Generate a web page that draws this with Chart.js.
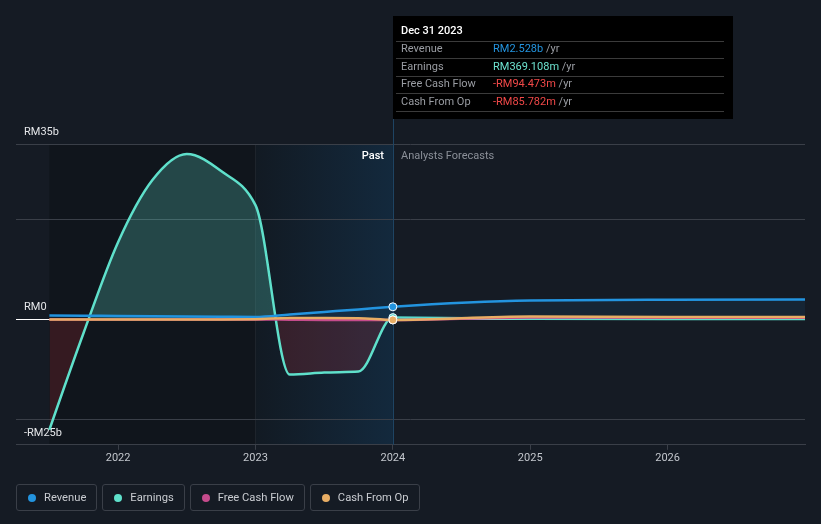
<!DOCTYPE html>
<html>
<head>
<meta charset="utf-8">
<script src="https://cdn.jsdelivr.net/npm/chart.js@4.4.1/dist/chart.umd.min.js"></script>
<style>
  html, body { margin: 0; padding: 0; background: #151b24; }
  body { width: 821px; height: 524px; position: relative; overflow: hidden; font-family: Roboto, sans-serif; }
  #chart { position: absolute; left: 0; top: 0; }
  #legend { position: absolute; left: 16px; top: 484px; display: flex; gap: 5px; }
  .item { display: flex; align-items: center; height: 25px; padding: 0 10px 0 11px; border: 1px solid #3a3f48; border-radius: 3px; color: #c9ccd1; font-size: 11.2px; }
  .dot { width: 8px; height: 8px; border-radius: 50%; margin-right: 8px; }
</style>
</head>
<body>
<canvas id="chart" width="821" height="524"></canvas>
<div id="legend"></div>
<script>
// quarterly history up to Dec 2023, then annual forecasts
const dates = [2021.5, 2021.75, 2022, 2022.25, 2022.5, 2022.75, 2023, 2023.25, 2023.5, 2023.75, 2024, 2025, 2026, 2027];
const revenue = [0.8, 0.75, 0.7, 0.65, 0.6, 0.55, 0.5, 1.0, 1.5, 2.0, 2.528, 3.8, 3.95, 4.0];
const earnings = [-22.0, -2.6, 15.4, 27.8, 33.0, 29.6, 22.8, -11.0, -10.6, -10.4, 0.369, 0.15, 0.1, 0.1];
const freeCashFlow = [0, 0, 0, 0, 0, 0, 0, -0.05, -0.1, -0.1, -0.094, 0.4, 0.35, 0.35];
const cashFromOp = [0, 0, 0, 0, 0, 0, 0.05, 0.3, 0.3, 0.25, -0.086, 0.6, 0.5, 0.5];

const xTicks = [2022, 2023, 2024, 2025, 2026];
const yTicks = [-25, -20, 0, 20, 35];
const yLabels = { '35': 'RM35b', '0': 'RM0', '-25': '-RM25b' };

const highlightDate = 2024;
const pastBandStart = 2023;
const tipTitle = 'Dec 31 2023';
const tipLabels = ['Revenue', 'Earnings', 'Free Cash Flow', 'Cash From Op'];
const tipValues = ['RM2.528b', 'RM369.108m', '-RM94.473m', '-RM85.782m'];

const seriesNames = ['Revenue', 'Earnings', 'Free Cash Flow', 'Cash From Op'];
const seriesColours = ['#2394df', '#5fe0cb', '#c54b8c', '#e8ad64'];
const tipColours = ['#2394df', '#6de3d0', '#f04848', '#f04848'];

const toPoints = (vals) => vals.map((v, i) => ({ x: dates[i], y: v }));
const pointSize = (ctx) => dates[ctx.dataIndex] === highlightDate ? 4 : 0;

const makeSeries = (idx, vals, fill, order) => ({
    label: seriesNames[idx],
    data: toPoints(vals),
    borderColor: seriesColours[idx],
    backgroundColor: seriesColours[idx],
    pointBackgroundColor: seriesColours[idx],
    pointBorderColor: '#ffffff',
    pointBorderWidth: 1,
    pointRadius: pointSize,
    borderWidth: 2.5,
    cubicInterpolationMode: 'monotone',
    fill: fill,
    order: order
});

// swap chart.js's monotone tangents for d3 monotoneX ones
const setMonotoneX = (chart) => {
    chart.getSortedVisibleDatasetMetas().forEach(meta => {
        const line = meta.dataset;
        if (!line || !line.updateControlPoints) return;
        line.updateControlPoints(chart.chartArea, 'x');
        const pts = meta.data;
        const n = pts.length;
        if (n < 3) return;
        const sec = [];
        for (let i = 0; i < n - 1; i++) {
            const h = pts[i + 1].x - pts[i].x;
            sec.push(h ? (pts[i + 1].y - pts[i].y) / h : 0);
        }
        const t = new Array(n).fill(0);
        for (let i = 1; i < n - 1; i++) {
            const h0 = pts[i].x - pts[i - 1].x;
            const h1 = pts[i + 1].x - pts[i].x;
            const s0 = sec[i - 1];
            const s1 = sec[i];
            const p = (s0 * h1 + s1 * h0) / (h0 + h1);
            t[i] = (Math.sign(s0) + Math.sign(s1)) * Math.min(Math.abs(s0), Math.abs(s1), 0.5 * Math.abs(p)) || 0;
        }
        t[0] = (3 * sec[0] - t[1]) / 2;
        t[n - 1] = (3 * sec[n - 2] - t[n - 2]) / 2;
        for (let i = 0; i < n; i++) {
            const pt = pts[i];
            const hl = i > 0 ? (pt.x - pts[i - 1].x) / 3 : 0;
            const hr = i < n - 1 ? (pts[i + 1].x - pt.x) / 3 : 0;
            pt.cp1x = pt.x - hl;
            pt.cp1y = pt.y - hl * t[i];
            pt.cp2x = pt.x + hr;
            pt.cp2y = pt.y + hr * t[i];
        }
        line._pointsUpdated = true;
        line._path = undefined;
    });
};

const backdrop = {
    id: 'backdrop',
    beforeDraw(chart) {
        setMonotoneX(chart);
        const { ctx, chartArea, scales: { x } } = chart;
        const a = x.getPixelForValue(dates[0]);
        const b = x.getPixelForValue(pastBandStart);
        const c = x.getPixelForValue(highlightDate);
        const h = chartArea.bottom - chartArea.top;
        ctx.save();
        ctx.fillStyle = '#10151c';
        ctx.fillRect(a, chartArea.top, b - a, h);
        const g = ctx.createLinearGradient(b, 0, c, 0);
        g.addColorStop(0, '#121a23');
        g.addColorStop(1, '#13293d');
        ctx.fillStyle = g;
        ctx.fillRect(b, chartArea.top, c - b, h);
        ctx.fillStyle = 'rgba(255,255,255,0.05)';
        ctx.fillRect(Math.round(b), chartArea.top, 1, h);
        ctx.restore();
    },
    beforeDatasetsDraw(chart) {
        const { ctx, chartArea, scales: { x } } = chart;
        const c = Math.round(x.getPixelForValue(highlightDate));
        ctx.save();
        ctx.fillStyle = '#1e4463';
        ctx.fillRect(c, 16, 1, chartArea.bottom - 16);
        ctx.restore();
    },
    afterDraw(chart) {
        const { ctx, scales: { x } } = chart;
        const c = Math.round(x.getPixelForValue(highlightDate));
        ctx.save();
        ctx.textBaseline = 'middle';

        ctx.font = '500 11px Roboto';
        ctx.textAlign = 'right';
        ctx.fillStyle = '#ffffff';
        ctx.fillText('Past', c - 9, 156);
        ctx.font = '11px Roboto';
        ctx.textAlign = 'left';
        ctx.fillStyle = '#8b9099';
        ctx.fillText('Analysts Forecasts', c + 8, 156);

        // tooltip box
        ctx.fillStyle = '#000000';
        ctx.fillRect(c, 16, 340, 103);
        ctx.font = '500 11px Roboto';
        ctx.fillStyle = '#ffffff';
        ctx.fillText(tipTitle, c + 8, 31);
        const lines = [41, 58, 76, 93, 111];
        ctx.fillStyle = '#3b3b3b';
        lines.forEach(ly => ctx.fillRect(c + 3, ly, 328, 1));
        const rows = [49.5, 67, 84.5, 102];
        ctx.font = '11px Roboto';
        tipLabels.forEach((lab, i) => {
            ctx.fillStyle = '#9a9da3';
            ctx.fillText(lab, c + 8, rows[i]);
            ctx.fillStyle = tipColours[i];
            ctx.fillText(tipValues[i], c + 100, rows[i]);
            const w = ctx.measureText(tipValues[i] + ' ').width;
            ctx.fillStyle = '#9a9da3';
            ctx.fillText('/yr', c + 100 + w, rows[i]);
        });
        ctx.restore();
    }
};

new Chart(document.getElementById('chart'), {
    type: 'line',
    data: {
        datasets: [
            makeSeries(3, cashFromOp, false, 0),
            makeSeries(2, freeCashFlow, false, 1),
            makeSeries(0, revenue, { target: 'origin', above: 'rgba(35,148,223,0.09)', below: 'rgba(35,148,223,0.09)' }, 2),
            makeSeries(1, earnings, { target: 'origin', above: 'rgba(95,224,203,0.25)', below: 'rgba(220,50,60,0.18)' }, 3)
        ]
    },
    options: {
        responsive: false,
        animation: false,
        events: [],
        layout: { padding: { left: 0, right: 16, top: 144, bottom: 57 } },
        plugins: { legend: { display: false }, tooltip: { enabled: false } },
        scales: {
            x: {
                type: 'linear',
                min: 2021.257,
                max: 2027,
                afterBuildTicks: (scale) => { scale.ticks = xTicks.map(v => ({ value: v })); },
                ticks: {
                    callback: (v) => String(v),
                    color: '#c3c7cd',
                    font: { family: 'Roboto', size: 11 },
                    padding: 2,
                    maxRotation: 0
                },
                grid: { drawOnChartArea: false, drawTicks: true, tickLength: 5, color: '#3a3f48' },
                border: { display: true, color: '#3a3f48' }
            },
            y: {
                min: -25,
                max: 35,
                afterBuildTicks: (scale) => { scale.ticks = yTicks.map(v => ({ value: v })); },
                ticks: {
                    mirror: true,
                    padding: 8,
                    labelOffset: -12,
                    callback: (v) => yLabels[String(v)] || '',
                    color: '#e4e6e9',
                    font: { family: 'Roboto', size: 11 }
                },
                grid: {
                    drawTicks: false,
                    color: (ctx) => ctx.tick && ctx.tick.value === 0 ? '#ffffff' : '#3a3f48'
                },
                border: { display: false }
            }
        }
    },
    plugins: [backdrop]
});

const legend = document.getElementById('legend');
seriesNames.forEach((name, i) => {
    const item = document.createElement('div');
    item.className = 'item';
    item.innerHTML = `<span class="dot" style="background:${seriesColours[i]}"></span>${name}`;
    legend.appendChild(item);
});
</script>
</body>
</html>
